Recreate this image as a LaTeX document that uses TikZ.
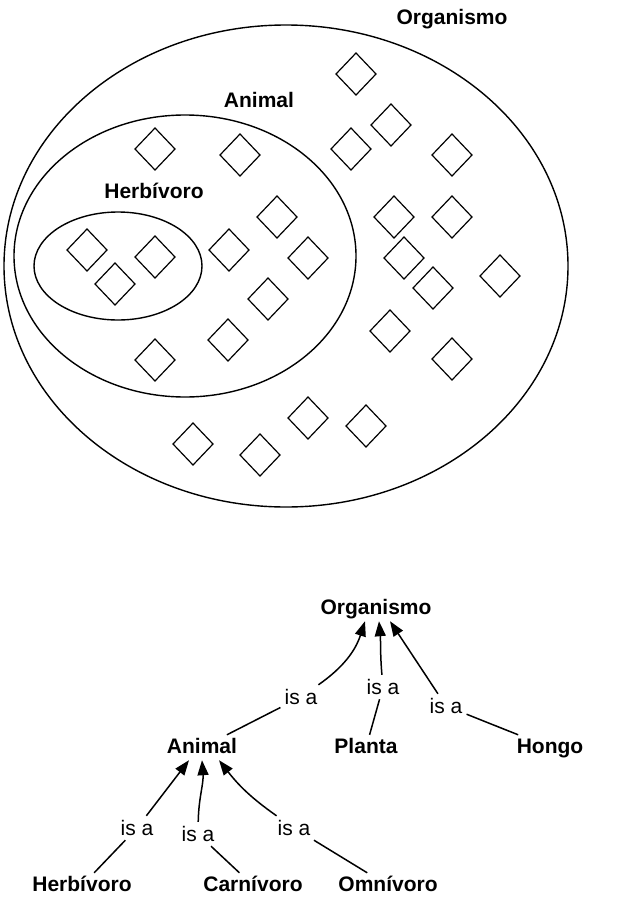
\documentclass[tikz,border=0pt]{standalone}
\usepackage{fontspec}
\setmainfont{Liberation Sans}
\usetikzlibrary{arrows.meta}
\begin{document}
\begin{tikzpicture}[x=1pt,y=-1pt,
  setline/.style={line width=1.4pt},
  dmdline/.style={line width=1.2pt},
  cls/.style={font=\fontsize{21}{25}\selectfont\bfseries, anchor=base, text height=15pt, text depth=4pt, inner sep=3pt},
  isa/.style={font=\fontsize{21}{25}\selectfont, anchor=base, text height=15pt, text depth=1pt, inner sep=4pt},
  conn/.style={line width=1.5pt},
  arr/.style={line width=1.5pt, -{Triangle[length=15pt,width=11pt]}},
  settitle/.style={font=\fontsize{21}{25}\selectfont\bfseries, anchor=base}
]
\useasboundingbox (0,0) rectangle (640,900);
% ---------- Venn part ----------
\draw[setline] (286,266) ellipse [x radius=282, y radius=241];
\draw[setline] (185,256) ellipse [x radius=171, y radius=141];
\draw[setline] (118,266) ellipse [x radius=84, y radius=54];
\node[settitle] (tOrg) at (452,24) {Organismo};
\node[settitle] (tAni) at (259,107) {Animal};
\node[settitle] (tHer) at (154,198) {Herbívoro};
\foreach \x/\y in {356/74, 391/125, 351/149, 452/155, 155/149, 240/155,
                   277/217, 394/217, 452/217, 229/250, 308/258, 404/258,
                   433/288, 500/276, 268/299, 390/331, 452/359, 228/340,
                   155/360, 87/250, 155/257, 115/284, 308/418, 366/426,
                   193/444, 260/455}
  \draw[dmdline] (\x,\y) +(-20,0) -- +(0,-21) -- +(20,0) -- +(0,21) -- cycle;
% ---------- Tree part ----------
\node[cls] (oT)  at (376,614) {Organismo};
\node[cls] (aT)  at (202,753) {Animal};
\node[cls] (pT)  at (366,753) {Planta};
\node[cls] (hT)  at (550,753) {Hongo};
\node[cls] (hbT) at (82,891)  {Herbívoro};
\node[cls] (cT)  at (253,891) {Carnívoro};
\node[cls] (omT) at (388,891) {Omnívoro};
\node[isa] (l1) at (301,704) {is a};
\node[isa] (l2) at (383,694) {is a};
\node[isa] (l3) at (446,713) {is a};
\node[isa] (l4) at (137,835) {is a};
\node[isa] (l5) at (198,841) {is a};
\node[isa] (l6) at (294,835) {is a};
% child -- label
\draw[conn] (aT) -- (l1);
\draw[conn] (pT) -- (l2);
\draw[conn] (hT) -- (l3);
\draw[conn] (hbT) -- (l4);
\draw[conn] (cT) -- (l5);
\draw[conn] (omT) -- (l6);
% label -> parent
\draw[arr] (l1) to[out=35,in=-108] ([xshift=-11pt]oT.south);
\draw[arr] (l2) to[out=95,in=-85] ([xshift=3pt]oT.south);
\draw[arr] (l3) -- ([xshift=14pt]oT.south);
\draw[arr] (l4) -- ([xshift=-13pt]aT.south);
\draw[arr] (l5) to[out=89,in=-86] ([xshift=0pt]aT.south);
\draw[arr] (l6) to[out=145,in=-52] ([xshift=17pt]aT.south);
\end{tikzpicture}
\end{document}
